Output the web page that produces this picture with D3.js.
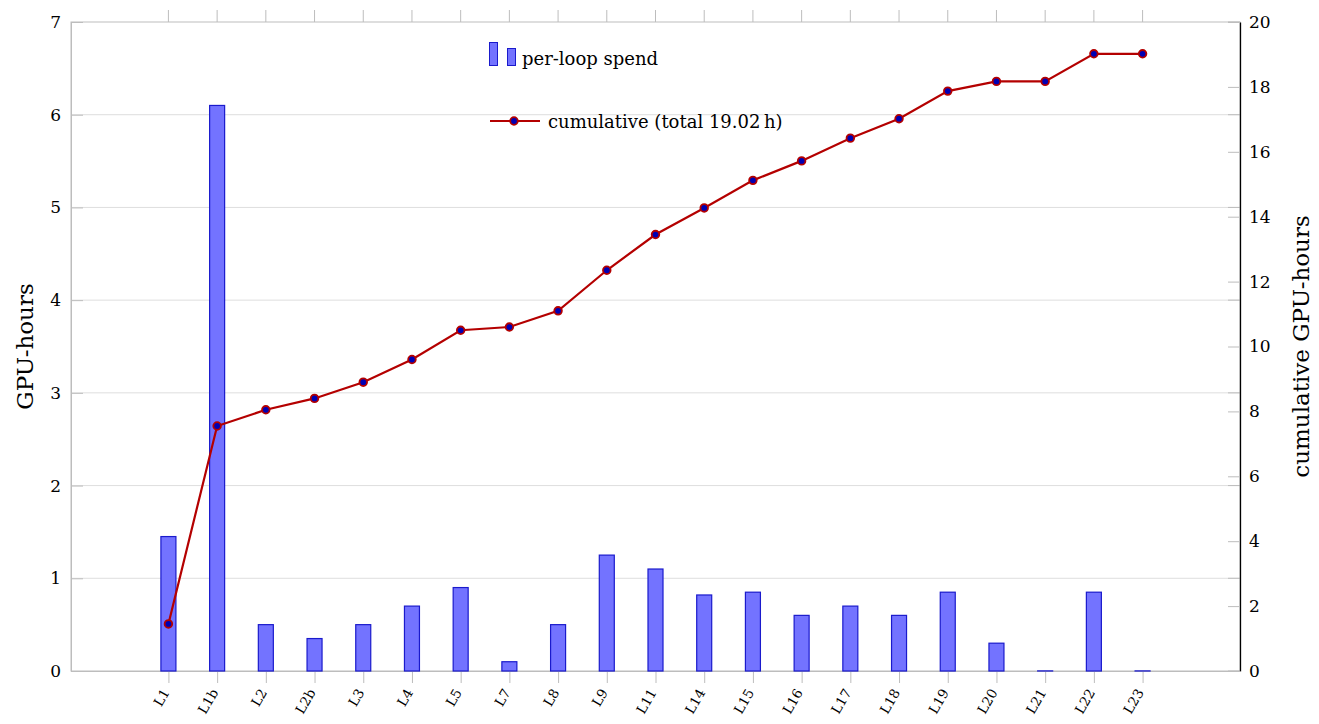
<!DOCTYPE html>
<html>
<head>
<meta charset="utf-8">
<script src="https://cdn.jsdelivr.net/npm/d3@7"></script>
<style>
  body { margin: 0; background: #fff; }
  text { font-family: "DejaVu Serif", "Liberation Serif", serif; fill: #000; }
</style>
</head>
<body>
<div id="chart-area"></div>
<script>
// loops and per-loop GPU spend (hours)
var loops = ["L1", "L1b", "L2", "L2b", "L3", "L4", "L5", "L7", "L8", "L9", "L11",
  "L14", "L15", "L16", "L17", "L18", "L19", "L20", "L21", "L22", "L23"];
var spend = [1.45, 6.1, 0.5, 0.35, 0.5, 0.7, 0.9, 0.1, 0.5, 1.25, 1.1,
  0.82, 0.85, 0.6, 0.7, 0.6, 0.85, 0.3, 0, 0.85, 0];
var cumulative = [1.45, 7.55, 8.05, 8.4, 8.9, 9.6, 10.5, 10.6, 11.1, 12.35, 13.45,
  14.27, 15.12, 15.72, 16.42, 17.02, 17.87, 18.17, 18.17, 19.02, 19.02];
var leftTicks = [0, 1, 2, 3, 4, 5, 6, 7];
var rightTicks = [0, 2, 4, 6, 8, 10, 12, 14, 16, 18, 20];

var width = 1319, height = 724;
var margin = { top: 22, right: 79, bottom: 53, left: 71 };
var plotW = width - margin.left - margin.right;
var plotH = height - margin.top - margin.bottom;

var svg = d3.select("#chart-area")
  .append("svg")
  .attr("width", width)
  .attr("height", height);
var g = svg.append("g")
  .attr("transform", "translate(" + margin.left + "," + margin.top + ")");

var x = d3.scaleLinear().domain([-2, loops.length + 1]).range([0, plotW]);
var y = d3.scaleLinear().domain([0, 7]).range([plotH, 0]);
var y2 = d3.scaleLinear().domain([0, 20]).range([plotH, 0]);

var grey = "#bdbdbd";

// grid lines
g.selectAll(".grid")
  .data(leftTicks.slice(1, -1)).enter()
  .append("line")
  .attr("x1", 0).attr("x2", plotW)
  .attr("y1", d => y(d)).attr("y2", d => y(d))
  .attr("stroke", "#dedede").attr("stroke-width", 1);

// frame
g.append("rect")
  .attr("width", plotW).attr("height", plotH)
  .attr("fill", "none").attr("stroke", grey).attr("stroke-width", 1);

// left axis
var leftAxis = d3.axisLeft(y).tickValues(leftTicks).tickFormat(d3.format("d"))
  .tickSizeInner(-12).tickSizeOuter(0).tickPadding(10);
var gl = g.append("g").attr("class", "y axis").call(leftAxis);
gl.select(".domain").attr("stroke", grey);
gl.selectAll(".tick line").attr("stroke", grey);
gl.selectAll(".tick text").attr("font-size", "17px");
// mirrored ticks on the right edge
g.selectAll(".rtick")
  .data(leftTicks).enter()
  .append("line")
  .attr("x1", plotW - 12).attr("x2", plotW)
  .attr("y1", d => y(d)).attr("y2", d => y(d))
  .attr("stroke", grey);

// right axis
var rightAxis = d3.axisRight(y2).tickValues(rightTicks).tickFormat(d3.format("d"))
  .tickSizeInner(-12).tickSizeOuter(0).tickPadding(9);
var gr = g.append("g").attr("class", "y2 axis")
  .attr("transform", "translate(" + plotW + ",0)")
  .call(rightAxis);
gr.select(".domain").attr("stroke", "#000").attr("stroke-width", 1.3);
gr.selectAll(".tick line").attr("stroke", grey);
gr.selectAll(".tick text").attr("font-size", "17px");

// bottom axis
var bottomAxis = d3.axisBottom(x).tickValues(d3.range(loops.length))
  .tickFormat(i => loops[i]).tickSizeInner(12).tickSizeOuter(0);
var gb = g.append("g").attr("class", "x axis")
  .attr("transform", "translate(0," + plotH + ")")
  .call(bottomAxis);
gb.select(".domain").attr("stroke", grey);
gb.selectAll(".tick line").attr("stroke", grey);
gb.selectAll(".tick text")
  .attr("font-size", "13.5px")
  .attr("text-anchor", "end")
  .attr("dy", "0.35em")
  .attr("y", 0).attr("x", 0)
  .attr("transform", "translate(-3,19) rotate(-60)");

// top ticks
g.selectAll(".ttick")
  .data(d3.range(loops.length)).enter()
  .append("line")
  .attr("x1", d => x(d)).attr("x2", d => x(d))
  .attr("y1", -12).attr("y2", 0)
  .attr("stroke", grey);

// bars
var barW = 15;
g.selectAll(".bar")
  .data(spend).enter()
  .append("rect")
  .attr("class", "bar")
  .attr("x", (d, i) => x(i) - barW / 2)
  .attr("y", d => Math.min(y(d), plotH - 0.1))
  .attr("width", barW)
  .attr("height", d => Math.max(plotH - y(d), 0.1))
  .attr("fill", "#7373ff")
  .attr("stroke", "#1a1acc")
  .attr("stroke-width", 1.2);

// cumulative line
var lineColor = "#b40000";
var line = d3.line().x((d, i) => x(i)).y(d => y2(d));
g.append("path")
  .datum(cumulative)
  .attr("d", line)
  .attr("fill", "none")
  .attr("stroke", lineColor)
  .attr("stroke-width", 2.2);
g.selectAll(".pt")
  .data(cumulative).enter()
  .append("circle")
  .attr("cx", (d, i) => x(i))
  .attr("cy", d => y2(d))
  .attr("r", 3.8)
  .attr("fill", "#0000b4")
  .attr("stroke", lineColor)
  .attr("stroke-width", 1.8);

// legend
var lg = svg.append("g");
lg.append("rect").attr("x", 489.5).attr("y", 42.5).attr("width", 8).attr("height", 23)
  .attr("fill", "#7373ff").attr("stroke", "#1a1acc");
lg.append("rect").attr("x", 507.5).attr("y", 48.5).attr("width", 8).attr("height", 17)
  .attr("fill", "#7373ff").attr("stroke", "#1a1acc");
lg.append("text").attr("x", 522).attr("y", 65).attr("font-size", "18px").text("per-loop spend");
lg.append("line").attr("x1", 490).attr("x2", 540).attr("y1", 121).attr("y2", 121)
  .attr("stroke", lineColor).attr("stroke-width", 2.2);
lg.append("circle").attr("cx", 514).attr("cy", 121).attr("r", 3.8)
  .attr("fill", "#0000b4").attr("stroke", lineColor).attr("stroke-width", 1.8);
lg.append("text").attr("x", 548).attr("y", 128).attr("font-size", "18px").text("cumulative (total 19.02\u2009h)");

// axis titles
svg.append("text")
  .attr("transform", "translate(33," + (margin.top + plotH / 2) + ") rotate(-90)")
  .attr("text-anchor", "middle")
  .attr("font-size", "23px")
  .text("GPU-hours");
svg.append("text")
  .attr("transform", "translate(1309," + (margin.top + plotH / 2) + ") rotate(-90)")
  .attr("text-anchor", "middle")
  .attr("font-size", "23px")
  .text("cumulative GPU-hours");
</script>
</body>
</html>
